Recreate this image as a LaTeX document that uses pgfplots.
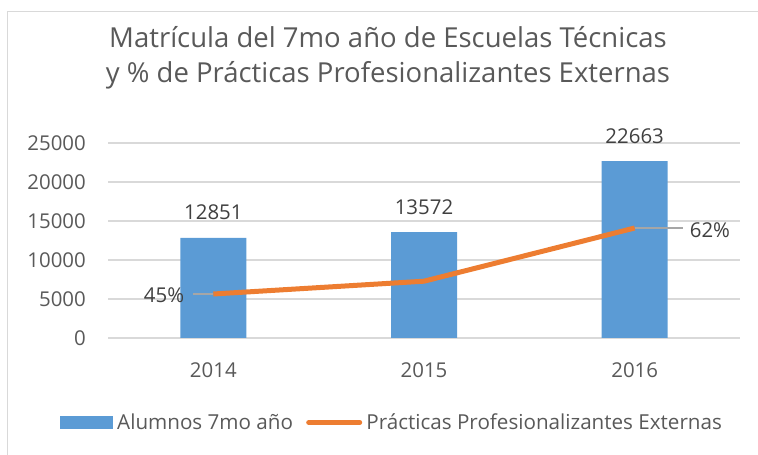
\documentclass[border=0pt]{standalone}
\usepackage{pgfplots}
\pgfplotsset{compat=1.18}
\usepackage{fontspec}
\setmainfont{Open Sans}
\definecolor{txt}{HTML}{595959}
\definecolor{dtxt}{HTML}{404040}
\definecolor{gridc}{HTML}{D9D9D9}
\definecolor{barblue}{HTML}{5B9BD5}
\definecolor{lineor}{HTML}{ED7D31}
\definecolor{leader}{HTML}{A6A6A6}
\begin{document}
\begin{tikzpicture}[x=1bp,y=1bp]
\useasboundingbox (0,0) rectangle (758,455);
\draw[gridc, line width=1.3bp] (7.3,-10) -- (7.3,443.3) -- (770,443.3);
\node[txt, font=\fontsize{27.6}{33}\selectfont, anchor=base, inner sep=0pt] at (388,407) {Matrícula del 7mo año de Escuelas Técnicas};
\node[txt, font=\fontsize{27.6}{33}\selectfont, anchor=base, inner sep=0pt] at (388,372) {y \% de Prácticas Profesionalizantes Externas};
\begin{axis}[at={(108bp,117bp)}, anchor=south west, scale only axis,
  width=632bp, height=195bp,
  xmin=-0.5, xmax=2.5, ymin=0, ymax=25000,
  xtick={0,1,2}, xticklabels={2014,2015,2016},
  ytick={0,5000,10000,15000,20000,25000},
  axis line style={draw=none}, major tick length=0pt,
  ymajorgrids, grid style={gridc, line width=1.1bp},
  /pgf/number format/assume math mode=true,
  /pgf/number format/1000 sep={},
  scaled y ticks=false,
  tick label style={txt, font=\fontsize{20.5}{24}\selectfont},
  yticklabel style={inner sep=0pt, xshift=-22bp},
  xticklabel style={inner sep=0pt, anchor=base, yshift=-40bp},
  legend style={at={(-0.0759,-0.4333)}, anchor=west, draw=none, fill=none,
    legend columns=2, inner sep=0pt, font=\fontsize{20.7}{24}\selectfont, text=txt,
    nodes={inner sep=0pt},
    /tikz/every odd column/.append style={column sep=4bp},
    /tikz/every even column/.append style={column sep=13bp}},
  legend cell align=left,
]
\addplot[ybar, bar width=66bp, fill=barblue, draw=none,
  nodes near coords, every node near coord/.append style={dtxt, font=\fontsize{20.5}{24}\selectfont, anchor=base, yshift=18bp, inner sep=0pt},
  legend image code/.code={\fill[barblue] (0bp,-6.5bp) rectangle (53bp,6.5bp);}]
  coordinates {(0,12851) (1,13572) (2,22663)};
\addlegendentry{Alumnos 7mo año}
\addlegendimage{legend image code/.code={\draw[lineor, line width=5bp, line cap=round] (2.5bp,0bp) -- (53.5bp,0bp); \path (0bp,0bp) (56bp,0bp);}}
\addlegendentry{Prácticas Profesionalizantes Externas}
\end{axis}
\begin{axis}[at={(108bp,117bp)}, anchor=south west, scale only axis,
  width=632bp, height=195bp,
  xmin=-0.5, xmax=2.5, ymin=33.67, ymax=83.9, hide axis]
\addplot[lineor, line width=5bp, line join=round, mark=none] coordinates {(0,45) (1,48.3) (2,62)};
\draw[leader, line width=1.2bp] ([xshift=-20bp]axis cs:0,45) -- (axis cs:0,45);
\draw[leader, line width=1.2bp] (axis cs:2,62) -- ([xshift=48bp]axis cs:2,62);
\node[dtxt, font=\fontsize{20.5}{24}\selectfont, anchor=east, inner sep=0pt] at ([xshift=-29bp,yshift=-1bp]axis cs:0,45) {45\%};
\node[dtxt, font=\fontsize{20.5}{24}\selectfont, anchor=west, inner sep=0pt] at ([xshift=55bp,yshift=-2bp]axis cs:2,62) {62\%};
\end{axis}
\end{tikzpicture}
\end{document}
